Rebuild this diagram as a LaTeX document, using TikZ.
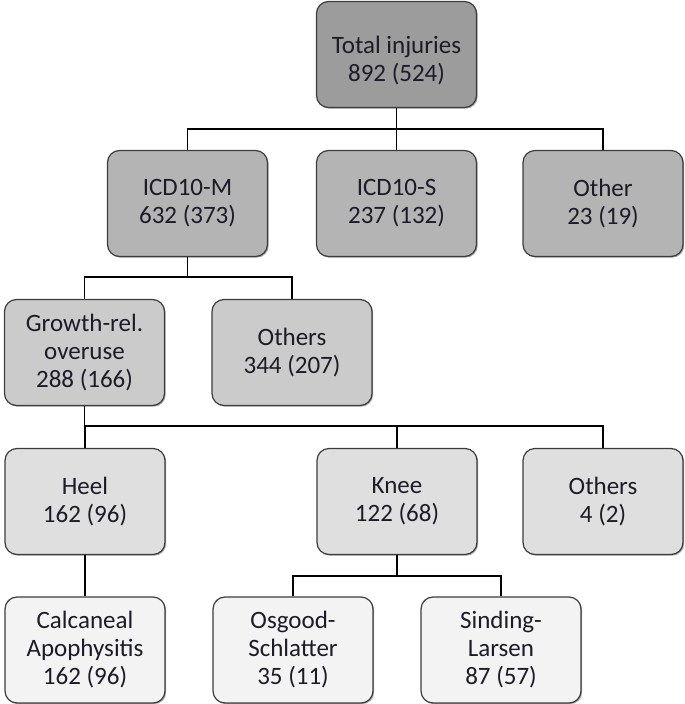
\documentclass[tikz,border=0pt]{standalone}
\usepackage{fontspec}
\setmainfont{Carlito}
\usetikzlibrary{shadows}
\definecolor{lvA}{HTML}{9C9C9C}
\definecolor{lvB}{HTML}{B4B4B4}
\definecolor{lvC}{HTML}{CBCBCB}
\definecolor{lvD}{HTML}{DFDFDF}
\definecolor{lvE}{HTML}{F3F3F3}
\definecolor{edgec}{HTML}{3C3C3C}
\definecolor{txtc}{HTML}{1C1C28}
\begin{document}
\begin{tikzpicture}[x=1pt,y=-1pt,
  box/.style={draw=edgec, line width=1.2pt, rounded corners=12pt,
    minimum width=160pt, minimum height=106pt, inner sep=0pt,
    align=center, text=txtc, font=\fontsize{25}{28}\selectfont,
    drop shadow={shadow xshift=1.2pt, shadow yshift=-1.2pt, opacity=0.35, fill=black}},
  lA/.style={box, fill=lvA},
  lB/.style={box, fill=lvB},
  lC/.style={box, fill=lvC},
  lD/.style={box, fill=lvD},
  lE/.style={box, fill=lvE},
  link/.style={draw=black, line width=1.3pt}]
\useasboundingbox (0,0) rectangle (685,704);
% nodes
\node[lA] (top) at (396.5,54.5) {\rule{0pt}{30pt}Total injuries\\892 (524)};
\node[lB] (icdm) at (187.5,203.5) {ICD10-M\\632 (373)};
\node[lB] (icds) at (396.5,203.5) {ICD10-S\\237 (132)};
\node[lB] (oth) at (603,203.5) {Other\\23 (19)};
\node[lC] (grow) at (84.5,352.5) {Growth-rel.\\overuse\\288 (166)};
\node[lC] (oths) at (292,352.5) {Others\\344 (207)};
\node[lD] (heel) at (85,501.5) {Heel\\162 (96)};
\node[lD] (knee) at (397,501.5) {Knee\\122 (68)};
\node[lD] (othk) at (603,501.5) {Others\\4 (2)};
\node[lE] (calc) at (85,650) {Calcaneal\\Apophysitis\\162 (96)};
\node[lE] (osg) at (293,650) {Osgood-\\Schlatter\\35 (11)};
\node[lE] (sind) at (501,650) {Sinding-\\Larsen\\87 (57)};
% bus coordinates
\coordinate (b1) at (0,129);
\coordinate (b2) at (0,277);
\coordinate (b3) at (0,426);
\coordinate (b4) at (0,576);
% connectors
\draw[link] (top.south) -- (top.south |- b1);
\draw[link] (icdm.north) -- (icdm.north |- b1) -- (oth.north |- b1) -- (oth.north);
\draw[link] (icds.north) -- (icds.north |- b1);
\draw[link] (icdm.south) -- (icdm.south |- b2);
\draw[link] (grow.north) -- (grow.north |- b2) -- (oths.north |- b2) -- (oths.north);
\draw[link] (grow.south) -- (grow.south |- b3);
\draw[link] (heel.north) -- (heel.north |- b3) -- (othk.north |- b3) -- (othk.north);
\draw[link] (knee.north) -- (knee.north |- b3);
\draw[link] (heel.south) -- (calc.north);
\draw[link] (knee.south) -- (knee.south |- b4);
\draw[link] (osg.north) -- (osg.north |- b4) -- (sind.north |- b4) -- (sind.north);
\end{tikzpicture}
\end{document}
